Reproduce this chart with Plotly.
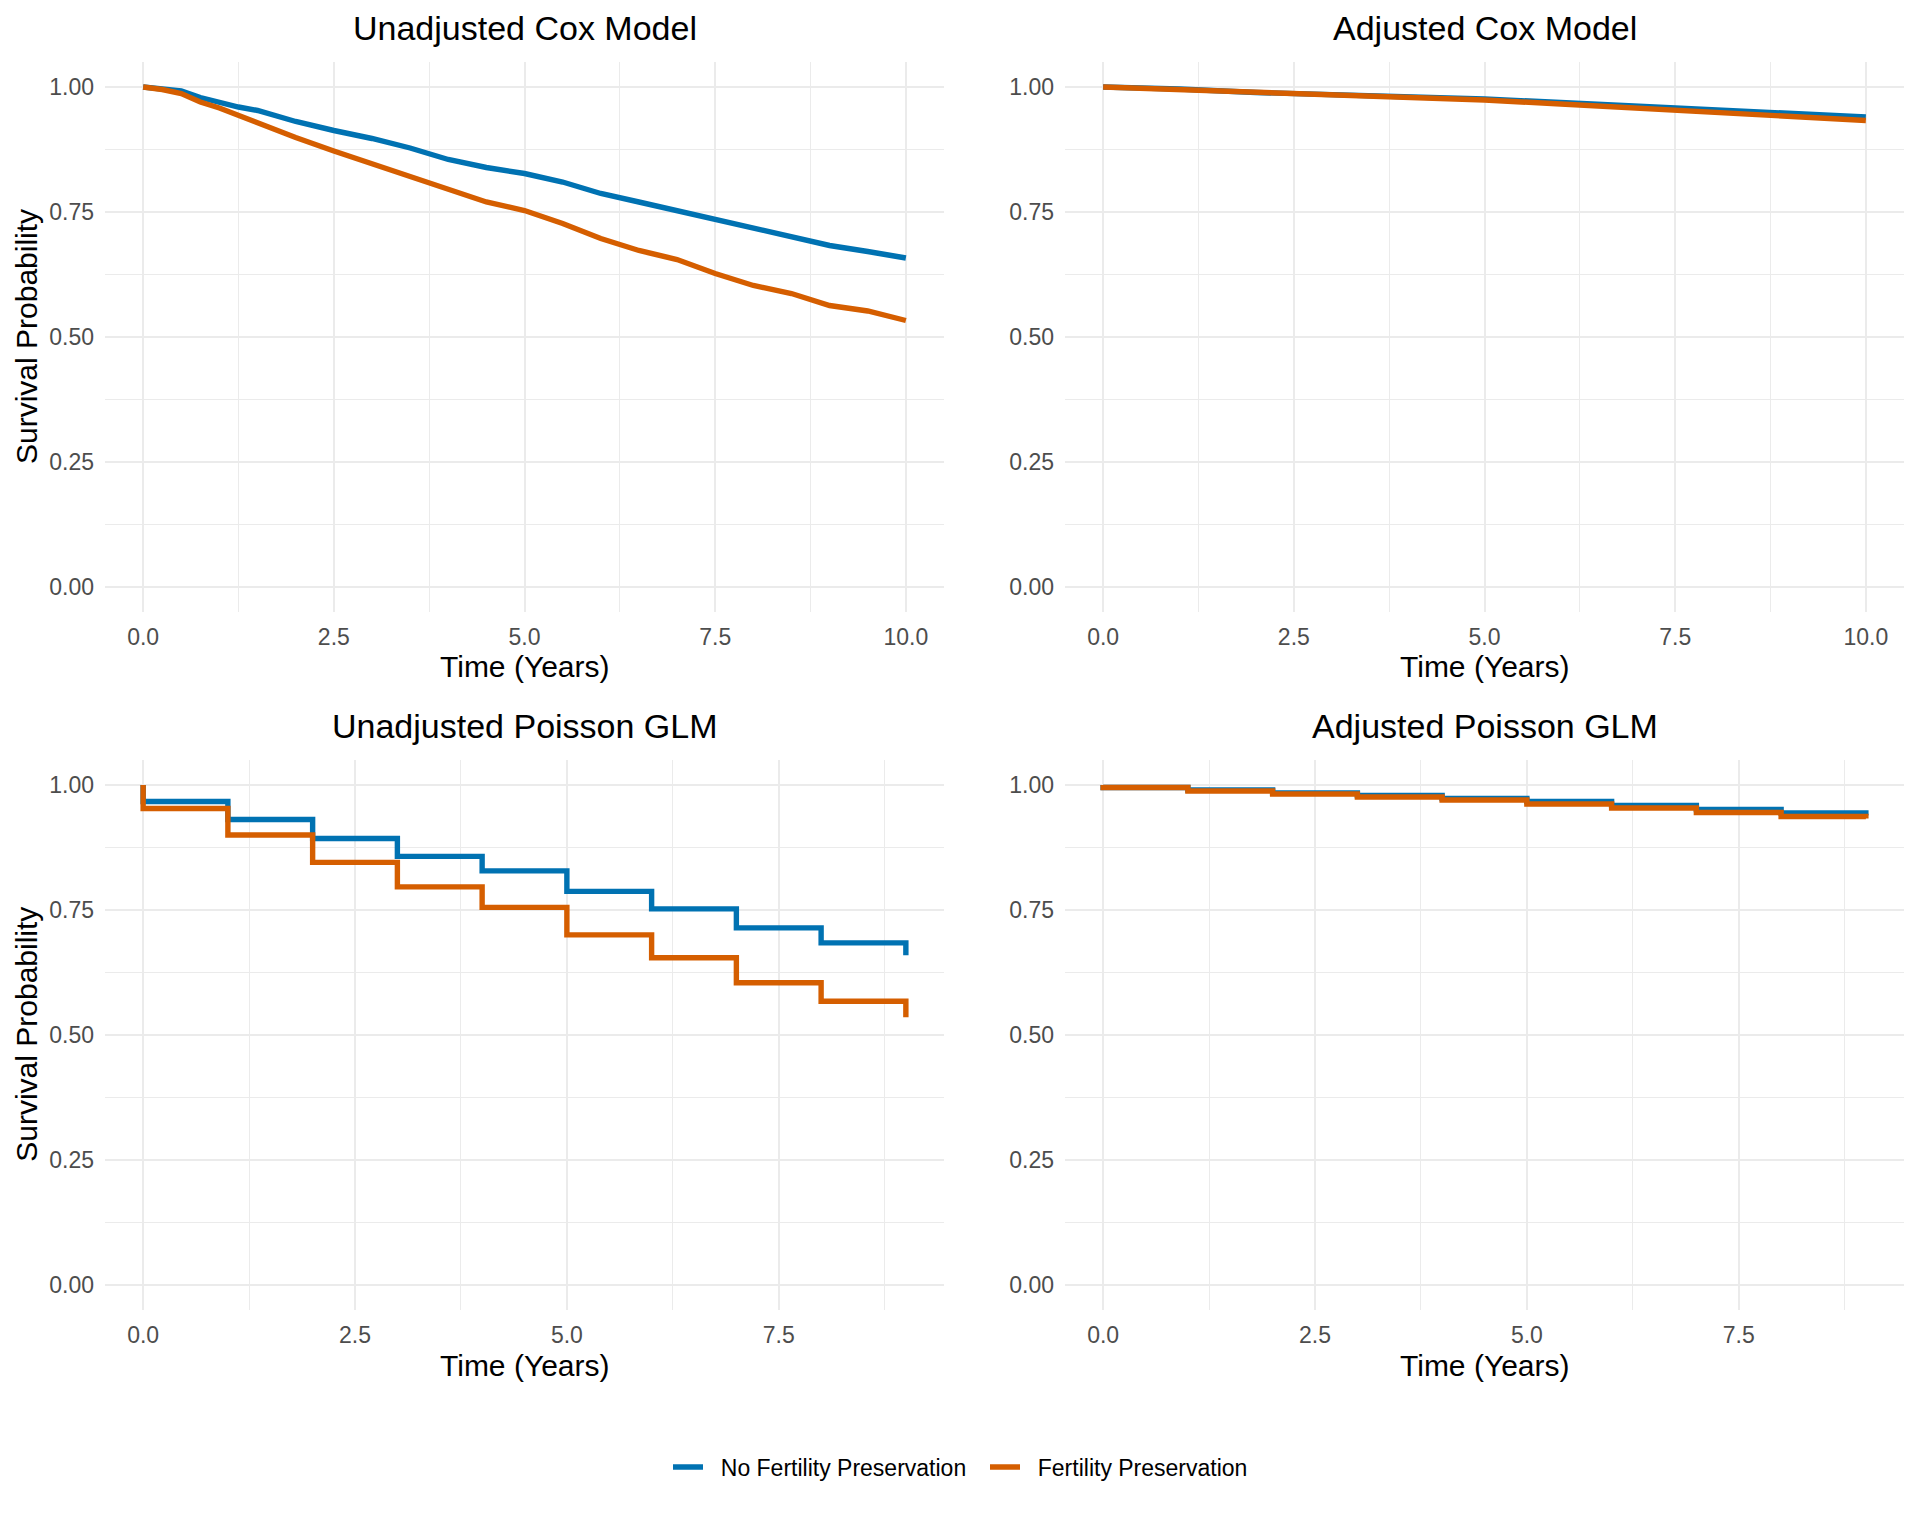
import plotly.graph_objects as go

# ---------------- data ----------------
groups = ["No Fertility Preservation", "Fertility Preservation"]
colors = ["#0072B2", "#D55E00"]

cox_time = [0, 0.25, 0.5, 0.75, 1.0, 1.25, 1.5, 2.0, 2.5, 3.0, 3.5, 4.0, 4.5,
            5.0, 5.5, 6.0, 6.5, 7.0, 7.5, 8.0, 8.5, 9.0, 9.5, 10.0]
cox_unadj_no = [1.000, 0.997, 0.992, 0.979, 0.969, 0.960, 0.953, 0.931, 0.913, 0.897,
                0.878, 0.855, 0.839, 0.827, 0.810, 0.787, 0.770, 0.753, 0.735, 0.717,
                0.701, 0.683, 0.671, 0.658]
cox_unadj_fp = [1.000, 0.995, 0.987, 0.970, 0.958, 0.943, 0.930, 0.899, 0.872, 0.847,
                0.820, 0.797, 0.770, 0.753, 0.727, 0.697, 0.673, 0.655, 0.627, 0.603,
                0.587, 0.563, 0.552, 0.533]

cox_adj_time = [0, 1, 2, 3, 4, 5, 6, 7, 8, 9, 10]
cox_adj_no = [1.000, 0.996, 0.989, 0.985, 0.980, 0.976, 0.969, 0.962, 0.955, 0.947, 0.940]
cox_adj_fp = [1.000, 0.995, 0.988, 0.983, 0.978, 0.974, 0.966, 0.958, 0.950, 0.942, 0.933]

pois_time = [0, 0, 1, 2, 3, 4, 5, 6, 7, 8, 9]
pois_unadj_no = [1.0, 0.967, 0.931, 0.893, 0.857, 0.828, 0.787, 0.752, 0.714, 0.684, 0.659]
pois_unadj_fp = [1.0, 0.953, 0.900, 0.845, 0.796, 0.755, 0.700, 0.654, 0.604, 0.567, 0.535]
pois_adj_no = [1.0, 0.995, 0.990, 0.984, 0.979, 0.973, 0.967, 0.959, 0.951, 0.944, 0.939]
pois_adj_fp = [1.0, 0.995, 0.988, 0.982, 0.976, 0.970, 0.962, 0.954, 0.945, 0.937, 0.933]

panel_titles = ["Unadjusted Cox Model", "Adjusted Cox Model",
                "Unadjusted Poisson GLM", "Adjusted Poisson GLM"]
x_title = "Time (Years)"
y_title = "Survival Probability"

# ---------------- layout geometry (viewport pixels) ----------------
OFF = 8  # default page body margin
W, H = 1920 - 2 * OFF, 1536 - 2 * OFF
def px_x(p):
    return (p - OFF) / W
def px_y(p):
    return 1 - (p - OFF) / H

col_px = [(105, 944), (1065, 1904)]
row_px = [(62, 612), (760, 1309.5)]

fig = go.Figure()

panels = [
    (0, 0, cox_time, cox_unadj_no, cox_time, cox_unadj_fp, "linear", [-0.5, 10.5]),
    (0, 1, cox_adj_time, cox_adj_no, cox_adj_time, cox_adj_fp, "linear", [-0.5, 10.5]),
    (1, 0, pois_time, pois_unadj_no, pois_time, pois_unadj_fp, "hv", [-0.45, 9.45]),
    (1, 1, pois_time, pois_adj_no, pois_time, pois_adj_fp, "hv", [-0.45, 9.45]),
]

FONT = "Liberation Sans, Arial"
LW = 5.4
GAP = "\u00a0\u00a0"
for i, (r, c, t1, v1, t2, v2, shape, xr) in enumerate(panels):
    n = i + 1
    xa = "x" if n == 1 else f"x{n}"
    ya = "y" if n == 1 else f"y{n}"
    for g, (tt, vv) in enumerate([(t1, v1), (t2, v2)]):
        fig.add_trace(go.Scatter(
            x=tt, y=vv, mode="lines", name=GAP + groups[g],
            line=dict(color=colors[g], width=LW, shape=shape),
            xaxis=xa, yaxis=ya, showlegend=(i == 0), legendgroup=groups[g]))
    axis_common = dict(showline=False, zeroline=False, ticks="",
                       showgrid=True, gridcolor="#EBEBEB", gridwidth=2,
                       tickfont=dict(family=FONT, size=23, color="#4D4D4D"))
    xk = "xaxis" if n == 1 else f"xaxis{n}"
    yk = "yaxis" if n == 1 else f"yaxis{n}"
    fig.layout[xk] = dict(axis_common,
                          domain=[px_x(col_px[c][0]), px_x(col_px[c][1])],
                          anchor=ya, range=xr, tick0=0, dtick=2.5, tickformat=".1f",
                          ticklabelstandoff=9,
                          minor=dict(showgrid=True, gridcolor="#EBEBEB", gridwidth=1,
                                     tick0=0, dtick=1.25))
    fig.layout[yk] = dict(axis_common,
                          domain=[px_y(row_px[r][1]), px_y(row_px[r][0])],
                          anchor=xa, range=[-0.05, 1.05], tick0=0, dtick=0.25,
                          tickformat=".2f", ticklabelstandoff=10,
                          minor=dict(showgrid=True, gridcolor="#EBEBEB", gridwidth=1,
                                     tick0=0, dtick=0.125))

    cx = (col_px[c][0] + col_px[c][1]) / 2
    cy_panel = (row_px[r][0] + row_px[r][1]) / 2
    title_y = 28 if r == 0 else 726
    xt_y = 667 if r == 0 else 1365
    fig.add_annotation(x=px_x(cx), y=px_y(title_y), xref="paper", yref="paper",
                       text=panel_titles[i], showarrow=False, xanchor="center", yanchor="middle",
                       font=dict(family=FONT, size=34, color="black"))
    fig.add_annotation(x=px_x(cx), y=px_y(xt_y), xref="paper", yref="paper",
                       text=x_title, showarrow=False, xanchor="center", yanchor="middle",
                       font=dict(family=FONT, size=30, color="black"))
    if c == 0:
        fig.add_annotation(x=px_x(27), y=px_y(cy_panel), xref="paper", yref="paper",
                           text=y_title, showarrow=False, textangle=-90,
                           xanchor="center", yanchor="middle",
                           font=dict(family=FONT, size=30, color="black"))

fig.update_layout(
    width=W, height=H,
    margin=dict(l=0, r=0, t=0, b=0),
    paper_bgcolor="white", plot_bgcolor="white",
    legend=dict(orientation="h", x=px_x(985), xanchor="center", y=px_y(1467), yanchor="middle",
                font=dict(family=FONT, size=23, color="black"),
                itemwidth=30, traceorder="normal", entrywidth=272),
)

fig.write_html("out.html")
